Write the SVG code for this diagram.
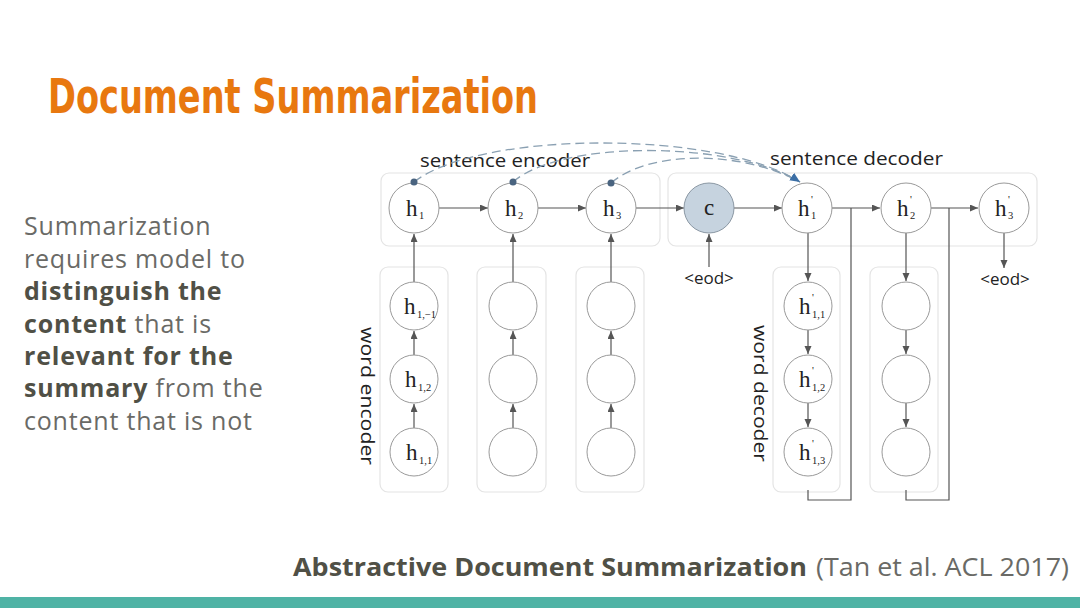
<svg xmlns="http://www.w3.org/2000/svg" width="1080" height="608" viewBox="0 0 1080 608">
<style>
.title{font-family:"DejaVu Sans Condensed","DejaVu Sans",sans-serif;font-weight:bold;font-size:48px;fill:#e8780f}
.body{font-family:"Open Sans","Liberation Sans",sans-serif;font-size:25px;letter-spacing:0.8px;fill:#6a6a66}
.b{font-weight:bold;fill:#505046}
.foot{font-family:"Open Sans","Liberation Sans",sans-serif;font-size:25px;fill:#6a6a66}
.lab{font-family:"Open Sans","Liberation Sans",sans-serif;font-size:19px;fill:#222}
.eod{font-family:"Open Sans","Liberation Sans",sans-serif;font-size:17px;fill:#222}
.node{fill:#fff;stroke:#9a9a9a;stroke-width:1}
.cnode{fill:#c6d3df;stroke:#8a97a3;stroke-width:1}
.box{fill:none;stroke:#e4e4e4;stroke-width:1.2}
.h{font-family:"Liberation Serif","Times New Roman",serif;font-size:23px;fill:#222}
.s{font-family:"Liberation Serif","Times New Roman",serif;font-size:10.5px;fill:#222}
.ar{stroke:#555;stroke-width:1.2;fill:none;marker-end:url(#ah)}
.ln{stroke:#555;stroke-width:1.2;fill:none}
.dash{stroke:#8aa0b2;stroke-width:1.3;fill:none;stroke-dasharray:9 5}
.dot{fill:#4a6480}
</style>
<defs>
<marker id="ah" markerUnits="userSpaceOnUse" markerWidth="9" markerHeight="8" refX="8" refY="3.5" orient="auto"><path d="M0,0 L8,3.5 L0,7 z" fill="#555"/></marker>
<marker id="bh" markerUnits="userSpaceOnUse" markerWidth="12" markerHeight="10" refX="10" refY="4.5" orient="auto"><path d="M0,0 L10,4.5 L0,9 z" fill="#3b6ea5"/></marker>
</defs>
<rect width="1080" height="608" fill="#fff"/>
<rect x="0" y="597" width="1080" height="11" fill="#4fb3a5"/>

<text class="title" x="48" y="113" textLength="490" lengthAdjust="spacingAndGlyphs">Document Summarization</text>

<g id="body-text">
<text class="body" x="24" y="235">Summarization</text>
<text class="body" x="24" y="268">requires model to</text>
<text class="body" x="24" y="300"><tspan class="b">distinguish the</tspan></text>
<text class="body" x="24" y="333"><tspan class="b">content</tspan> that is</text>
<text class="body" x="24" y="365"><tspan class="b">relevant for the</tspan></text>
<text class="body" x="24" y="397"><tspan class="b">summary</tspan> from the</text>
<text class="body" x="24" y="430">content that is not</text>
</g>

<g id="footer">
<text class="foot" x="293" y="576"><tspan class="b" textLength="514" lengthAdjust="spacingAndGlyphs">Abstractive Document Summarization</tspan> <tspan x="816" textLength="253" lengthAdjust="spacingAndGlyphs">(Tan et al. ACL 2017)</tspan></text>
</g>

<g id="boxes">
<rect class="box" x="381" y="173" width="279" height="73" rx="8"/>
<rect class="box" x="668" y="173" width="369" height="73" rx="8"/>
<rect class="box" x="380" y="267" width="68" height="225" rx="8"/>
<rect class="box" x="477" y="267" width="69" height="225" rx="8"/>
<rect class="box" x="576" y="267" width="68" height="225" rx="8"/>
<rect class="box" x="773" y="267" width="67" height="225" rx="8"/>
<rect class="box" x="870" y="267" width="68" height="225" rx="8"/>
</g>

<g id="labels">
<text class="lab" x="420" y="167" textLength="170" lengthAdjust="spacingAndGlyphs">sentence encoder</text>
<text class="lab" x="770" y="165" textLength="173" lengthAdjust="spacingAndGlyphs">sentence decoder</text>
<text class="lab" transform="translate(361,327) rotate(90)" font-size="20" textLength="138" lengthAdjust="spacingAndGlyphs">word encoder</text>
<text class="lab" transform="translate(754,325) rotate(90)" font-size="20" textLength="137" lengthAdjust="spacingAndGlyphs">word decoder</text>
<text class="eod" x="709" y="284" text-anchor="middle">&lt;eod&gt;</text>
<text class="eod" x="1005" y="285" text-anchor="middle">&lt;eod&gt;</text>
</g>

<g id="connectors">
<line class="ar" x1="439" y1="208" x2="488" y2="208"/>
<line class="ar" x1="538" y1="208" x2="586" y2="208"/>
<line class="ar" x1="636" y1="208" x2="684" y2="208"/>
<line class="ar" x1="734" y1="208" x2="782" y2="208"/>
<line class="ar" x1="832" y1="208" x2="880" y2="208"/>
<line class="ar" x1="931" y1="208" x2="978" y2="208"/>
<line class="ar" x1="414" y1="282" x2="414" y2="234"/>
<line class="ar" x1="513" y1="282" x2="513" y2="234"/>
<line class="ar" x1="611" y1="282" x2="611" y2="234"/>
<line class="ar" x1="414" y1="428" x2="414" y2="404"/>
<line class="ar" x1="414" y1="355" x2="414" y2="331"/>
<line class="ar" x1="513" y1="428" x2="513" y2="404"/>
<line class="ar" x1="513" y1="355" x2="513" y2="331"/>
<line class="ar" x1="611" y1="428" x2="611" y2="404"/>
<line class="ar" x1="611" y1="355" x2="611" y2="331"/>
<line class="ar" x1="709" y1="267" x2="709" y2="234"/>
<line class="ar" x1="808" y1="233" x2="808" y2="281"/>
<line class="ar" x1="808" y1="330" x2="808" y2="354"/>
<line class="ar" x1="808" y1="403" x2="808" y2="427"/>
<line class="ar" x1="906" y1="233" x2="906" y2="281"/>
<line class="ar" x1="906" y1="330" x2="906" y2="354"/>
<line class="ar" x1="906" y1="403" x2="906" y2="427"/>
<line class="ar" x1="1004" y1="233" x2="1004" y2="268"/>
<polyline class="ln" points="851,208 851,500 808,500 808,490"/>
<polyline class="ln" points="949,208 949,500 906,500 906,490"/>
<path class="dash" d="M611,183 C650,150 740,150 800,182"/>
<path class="dash" d="M513,182 C560,140 730,140 800,182"/>
<path class="dash" d="M414,182 C480,130 720,130 800,182" marker-end="url(#bh)"/>
</g>

<g id="n-h1"><circle class="node" cx="414" cy="208" r="25"/><text class="h" x="406" y="216">h</text><text class="s" x="419" y="219">1</text></g>
<g id="n-h2"><circle class="node" cx="513" cy="208" r="25"/><text class="h" x="505" y="216">h</text><text class="s" x="518" y="219">2</text></g>
<g id="n-h3"><circle class="node" cx="611" cy="208" r="25"/><text class="h" x="603" y="216">h</text><text class="s" x="616" y="219">3</text></g>
<g id="n-c"><circle class="cnode" cx="709" cy="208" r="25"/><text class="h" x="709" y="215" text-anchor="middle">c</text></g>
<g id="n-hd1"><circle class="node" cx="807" cy="208" r="25"/><text class="h" x="798" y="216">h</text><text class="s" x="811" y="203">'</text><text class="s" x="811" y="219">1</text></g>
<g id="n-hd2"><circle class="node" cx="906" cy="208" r="25"/><text class="h" x="897" y="216">h</text><text class="s" x="910" y="203">'</text><text class="s" x="910" y="219">2</text></g>
<g id="n-hd3"><circle class="node" cx="1004" cy="208" r="25"/><text class="h" x="995" y="216">h</text><text class="s" x="1008" y="203">'</text><text class="s" x="1008" y="219">3</text></g>

<g id="n-w1a"><circle class="node" cx="414" cy="306" r="24"/><text class="h" x="404" y="314">h</text><text class="s" x="417" y="318">1,−1</text></g>
<g id="n-w1b"><circle class="node" cx="414" cy="379" r="24"/><text class="h" x="405" y="387">h</text><text class="s" x="418" y="391">1,2</text></g>
<g id="n-w1c"><circle class="node" cx="414" cy="452" r="24"/><text class="h" x="406" y="460">h</text><text class="s" x="419" y="464">1,1</text></g>
<g id="n-w2a"><circle class="node" cx="513" cy="306" r="24"/></g>
<g id="n-w2b"><circle class="node" cx="513" cy="379" r="24"/></g>
<g id="n-w2c"><circle class="node" cx="513" cy="452" r="24"/></g>
<g id="n-w3a"><circle class="node" cx="611" cy="306" r="24"/></g>
<g id="n-w3b"><circle class="node" cx="611" cy="379" r="24"/></g>
<g id="n-w3c"><circle class="node" cx="611" cy="452" r="24"/></g>

<g id="n-d1a"><circle class="node" cx="808" cy="306" r="24"/><text class="h" x="799" y="314">h</text><text class="s" x="812" y="301">'</text><text class="s" x="812" y="318">1,1</text></g>
<g id="n-d1b"><circle class="node" cx="808" cy="379" r="24"/><text class="h" x="799" y="387">h</text><text class="s" x="812" y="374">'</text><text class="s" x="812" y="391">1,2</text></g>
<g id="n-d1c"><circle class="node" cx="808" cy="452" r="24"/><text class="h" x="799" y="460">h</text><text class="s" x="812" y="447">'</text><text class="s" x="812" y="464">1,3</text></g>
<g id="n-d2a"><circle class="node" cx="906" cy="306" r="24"/></g>
<g id="n-d2b"><circle class="node" cx="906" cy="379" r="24"/></g>
<g id="n-d2c"><circle class="node" cx="906" cy="452" r="24"/></g>

<g id="dots">
<circle class="dot" cx="414" cy="182" r="3.5"/>
<circle class="dot" cx="513" cy="182" r="3.5"/>
<circle class="dot" cx="611" cy="183" r="3.5"/>
</g>
</svg>
